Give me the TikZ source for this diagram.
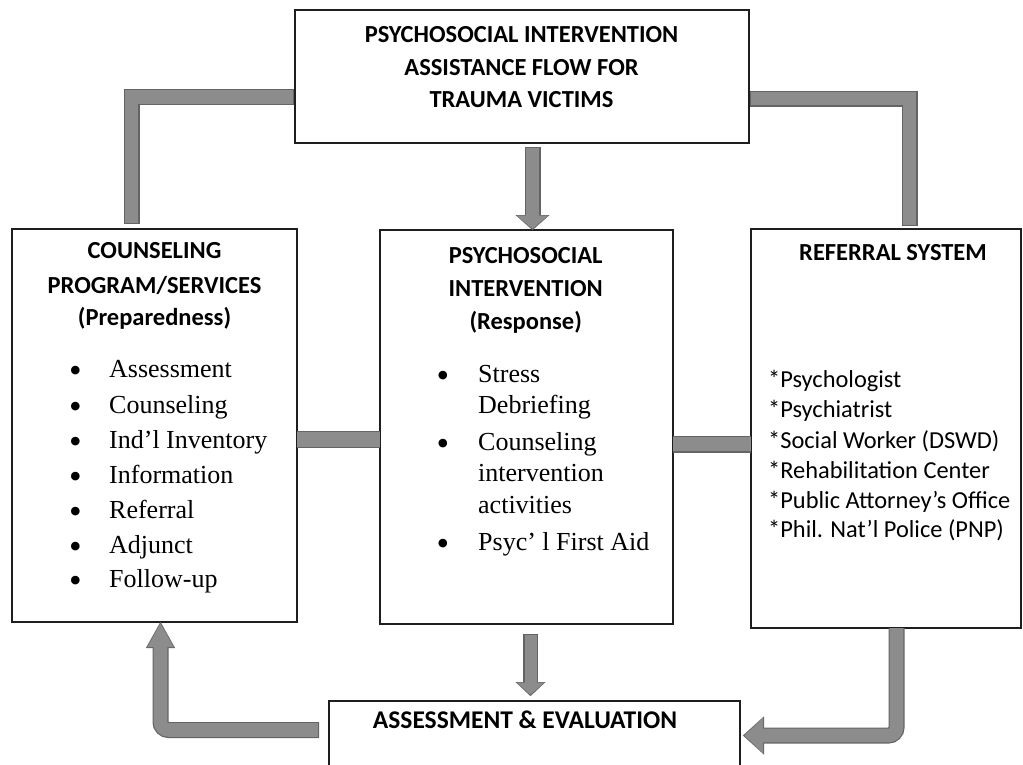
\documentclass[tikz,border=0pt]{standalone}
\usepackage{fontspec}
\setmainfont{Liberation Serif}
\newfontfamily\carlito{Carlito}
\usetikzlibrary{arrows.meta,calc}
\definecolor{barc}{RGB}{140,140,140}
\definecolor{bord}{RGB}{100,100,100}
\definecolor{boxline}{RGB}{30,30,30}
\tikzset{
  box/.style={draw=boxline, line width=1.4pt, fill=white, anchor=north west, inner sep=0pt, outer sep=0pt},
  hd/.style={font=\carlito\bfseries\fontsize{24.5}{25}\selectfont, anchor=base, inner sep=0pt},
  itm/.style={font=\fontsize{26}{26}\selectfont, anchor=base west, inner sep=0pt},
  bul/.style={font=\fontsize{36}{36}\selectfont, anchor=base, inner sep=0pt, yshift=-5pt},
  ritm/.style={font=\carlito\fontsize{24.4}{25}\selectfont, anchor=base west, inner sep=0pt},
  barB/.style={draw=bord, line width=16pt},
  barC/.style={draw=barc, line width=13.6pt},
}
\begin{document}
\begin{tikzpicture}[x=1pt,y=-1pt]
\clip (0,0) rectangle (1023,764);
\fill[white] (0,0) rectangle (1023,764);

% boxes
\node[box, minimum width=454pt, minimum height=133pt] (top) at (295,10) {};
\node[box, minimum width=285pt, minimum height=393pt] (cps) at (12,229) {};
\node[box, minimum width=293pt, minimum height=394pt] (psi) at (380,230) {};
\node[box, minimum width=270pt, minimum height=399pt] (ref) at (751,229) {};
\node[box, minimum width=411pt, minimum height=100pt] (ae) at (329,701) {};

% connector anchors
\coordinate (c1a) at ($(top.north west)+(-1,87)$);
\coordinate (c1b) at ($(cps.north west)+(119.5,-5)$);
\coordinate (c2a) at ($(top.north east)+(1,88.5)$);
\coordinate (c2b) at ($(ref.north west)+(158.5,-3)$);
\coordinate (c3a) at ($(top.south)+(10.5,4)$);
\coordinate (c4a) at ($(cps.north east)+(0,210.5)$);
\coordinate (c5a) at ($(psi.north east)+(0,214)$);
\coordinate (c6a) at ($(psi.south)+(4,10)$);
\coordinate (c6b) at ($(c6a |- ae.north)+(0,-5)$);
\coordinate (c7a) at ($(ae.north west)+(-10,29)$);
\coordinate (c7b) at ($(cps.south west)+(148.5,0)$);
\coordinate (c8a) at ($(ref.south west)+(145.5,0)$);
\coordinate (c8b) at ($(ae.north east)+(3,34.5)$);

% 1: top -> counseling (elbow)
\draw[barB] (c1a) -| (c1b);
\draw[barC, shorten <=1.2pt, shorten >=1.2pt] (c1a) -| (c1b);
% 2: top -> referral (elbow)
\draw[barB] (c2a) -| (c2b);
\draw[barC, shorten <=1.2pt, shorten >=1.2pt] (c2a) -| (c2b);
% 3: top -> psychosocial intervention
\draw[barB, -{Triangle[width=34pt,length=15pt,line width=0.1pt]}] (c3a) -- (c3a |- psi.north);
\draw[barC, shorten <=1.2pt, shorten >=1.3pt, -{Triangle[width=31pt,length=13pt,line width=0.1pt]}] (c3a) -- (c3a |- psi.north);
% 4: counseling -- psychosocial
\draw[barB, line width=17pt] (c4a) -- (c4a -| psi.west);
\draw[barC, line width=14.6pt] (c4a) -- (c4a -| psi.west);
% 5: psychosocial -- referral
\draw[barB, line width=17pt] (c5a) -- (c5a -| ref.west);
\draw[barC, line width=14.6pt] (c5a) -- (c5a -| ref.west);
% 6: psychosocial -> assessment
\draw[barB, line width=14.5pt, -{Triangle[width=30pt,length=14pt,line width=0.1pt]}] (c6a) -- (c6b);
\draw[barC, line width=12pt, shorten <=1.2pt, shorten >=1.3pt, -{Triangle[width=27pt,length=12pt,line width=0.1pt]}] (c6a) -- (c6b);
% 7: assessment -> counseling
\draw[barB, rounded corners=8pt, -{Triangle[width=29pt,length=26pt,line width=0.1pt]}] (c7a) -| (c7b);
\draw[barC, rounded corners=8pt, shorten <=1.2pt, shorten >=1.5pt, -{Triangle[width=26pt,length=23.5pt,line width=0.1pt]}] (c7a) -| (c7b);
% 8: referral -> assessment
\draw[barB, rounded corners=8pt, -{Triangle[width=38pt,length=21pt,line width=0.1pt]}] (c8a) |- (c8b);
\draw[barC, rounded corners=8pt, shorten >=1.5pt, -{Triangle[width=35pt,length=18.5pt,line width=0.1pt]}] (c8a) |- (c8b);

% top box text
\node[hd] (t1) at (521.5,42) {PSYCHOSOCIAL INTERVENTION};
\node[hd] (t2) at (521.5,75) {ASSISTANCE FLOW FOR};
\node[hd] (t3) at (521.5,107) {TRAUMA VICTIMS};

% counseling box text
\node[hd] (l1) at (154.5,258) {COUNSELING};
\node[hd] (l2) at (154.5,293) {PROGRAM/SERVICES};
\node[hd] (l3) at (154.5,325) {(Preparedness)};
\foreach \yy/\tt [count=\i] in {377/Assessment, 413/Counseling, 448/{Ind’l Inventory}, 483/Information, 518/Referral, 553/Adjunct, 587/Follow-up}{
  \node[bul] (lb\i) at (75.5,\yy) {•};
  \node[itm] (li\i) at (109,\yy) {\tt};
}

% psychosocial intervention box text
\node[hd] (m1) at (525.7,263) {PSYCHOSOCIAL};
\node[hd] (m2) at (525.7,296) {INTERVENTION};
\node[hd] (m3) at (525.7,329) {(Response)};
\node[bul] (mb1) at (443,382) {•};
\node[bul] (mb2) at (443,450) {•};
\node[bul] (mb3) at (443,550) {•};
\foreach \yy/\tt [count=\i] in {382/Stress, 413/Debriefing, 450/Counseling, 481/intervention, 513/activities, 550/{Psyc’ l First Aid}}{
  \node[itm] (mi\i) at (478,\yy) {\tt};
}

% referral box text
\node[hd] (r0) at (893,260) {REFERRAL SYSTEM};
\foreach \yy/\tt [count=\i] in {387/*Psychologist, 417/*Psychiatrist, 448/{*Social Worker (DSWD)}, 478/*Rehabilitation Center, 508/{*Public Attorney’s Office}, 537/{*Phil. Nat’l Police (PNP)}}{
  \node[ritm] (ri\i) at (768,\yy) {\tt};
}

% assessment box text
\node[hd, font=\carlito\bfseries\fontsize{25.5}{26}\selectfont] (b1) at (525,728) {ASSESSMENT \& EVALUATION};
\end{tikzpicture}
\end{document}
